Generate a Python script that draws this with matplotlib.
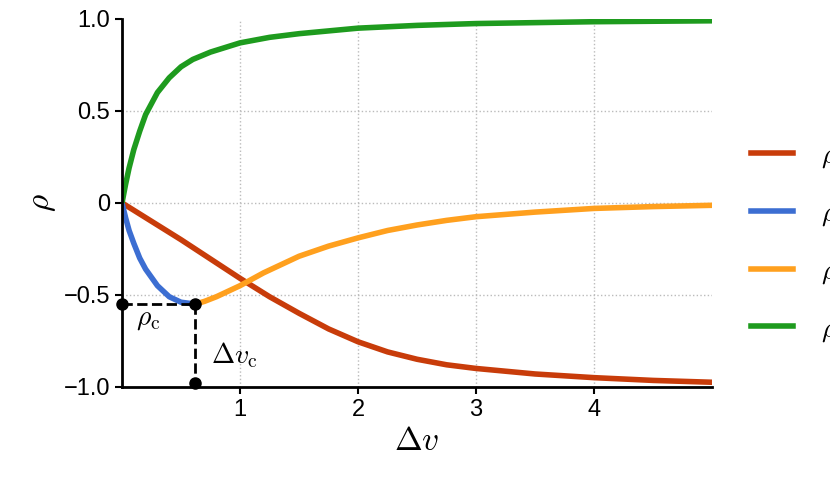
import matplotlib
matplotlib.use("Agg")
import matplotlib.pyplot as plt
from matplotlib.lines import Line2D

plt.rcParams["mathtext.fontset"] = "cm"
plt.rcParams["font.family"] = "Liberation Sans"

x_red = [0, 0.25, 0.5, 0.75, 1, 1.25, 1.5, 1.75, 2, 2.25, 2.5, 2.75, 3, 3.5, 4, 4.5, 5]
y_red = [0, -0.1, -0.2, -0.305, -0.41, -0.51, -0.6, -0.685, -0.755, -0.81, -0.85, -0.88, -0.9, -0.93, -0.95, -0.965, -0.975]
x_blue = [0, 0.03, 0.06, 0.1, 0.15, 0.2, 0.3, 0.4, 0.5, 0.62]
y_blue = [0, -0.08, -0.15, -0.22, -0.3, -0.36, -0.45, -0.51, -0.54, -0.55]
x_orange = [0.62, 0.7, 0.8, 1.0, 1.2, 1.5, 1.75, 2, 2.25, 2.5, 2.75, 3, 3.5, 4, 4.5, 5]
y_orange = [-0.55, -0.535, -0.51, -0.45, -0.38, -0.29, -0.235, -0.19, -0.15, -0.12, -0.095, -0.075, -0.05, -0.03, -0.02, -0.013]
x_green = [0, 0.03, 0.06, 0.1, 0.15, 0.2, 0.3, 0.4, 0.5, 0.6, 0.75, 1, 1.25, 1.5, 2, 2.5, 3, 4, 5]
y_green = [0, 0.1, 0.19, 0.29, 0.39, 0.48, 0.6, 0.68, 0.74, 0.78, 0.82, 0.87, 0.9, 0.92, 0.95, 0.965, 0.975, 0.985, 0.99]
labels = [r"$\rho_0$", r"$\rho_1$", r"$\rho_1$", r"$\rho_2$"]
colors = ["#c83c0a", "#3c6ed2", "#ffa01e", "#1e9b1e"]
xc, yc = 0.62, -0.55

fig = plt.figure(figsize=(8.3, 4.86), dpi=100)
ax = fig.add_axes([0.147, 0.204, 0.711, 0.757])
ax.set_xlim(0, 5)
ax.set_ylim(-1, 1)
for v in [1, 2, 3, 4]:
    ax.axvline(v, color="#bbbbbb", ls=":", lw=1)
for v in [0.5, 0, -0.5]:
    ax.axhline(v, color="#bbbbbb", ls=":", lw=1)
ax.plot(x_red, y_red, color=colors[0], lw=4, solid_capstyle="butt")
ax.plot(x_blue, y_blue, color=colors[1], lw=4, solid_capstyle="butt")
ax.plot(x_orange, y_orange, color=colors[2], lw=4, solid_capstyle="butt")
ax.plot(x_green, y_green, color=colors[3], lw=4, solid_capstyle="butt")
ax.plot([0, xc], [yc, yc], "k--", lw=2, clip_on=False)
ax.plot([xc, xc], [yc, -0.98], "k--", lw=2, clip_on=False)
ax.plot([0, xc, xc], [yc, yc, -0.98], "ko", ms=8, clip_on=False, zorder=5)
ax.text(0.12, -0.63, r"$\rho_{\rm c}$", fontsize=20, va="center")
ax.text(0.75, -0.83, r"$\Delta v_{\rm c}$", fontsize=20, va="center")

for s in ["top", "right"]:
    ax.spines[s].set_visible(False)
ax.spines["left"].set_linewidth(2)
ax.spines["bottom"].set_linewidth(2)
ax.set_xticks([1, 2, 3, 4])
ax.set_xticklabels(["1", "2", "3", "4"])
ax.set_yticks([1, 0.5, 0, -0.5, -1])
ax.set_yticklabels(["1.0", "0.5", "0", "\u22120.5", "\u22121.0"])
ax.tick_params(labelsize=17, width=1.5, length=5, direction="out")
ax.set_xlabel(r"$\Delta v$", fontsize=24)
ax.set_ylabel(r"$\rho$", fontsize=24)

handles = [Line2D([], [], color=c, lw=4) for c in colors]
fig.legend(handles, labels, loc="center left", bbox_to_anchor=(0.875, 0.5), frameon=False,
           fontsize=20, labelspacing=1.1, handlelength=1.5, handletextpad=1.0)
fig.savefig("out.png")
